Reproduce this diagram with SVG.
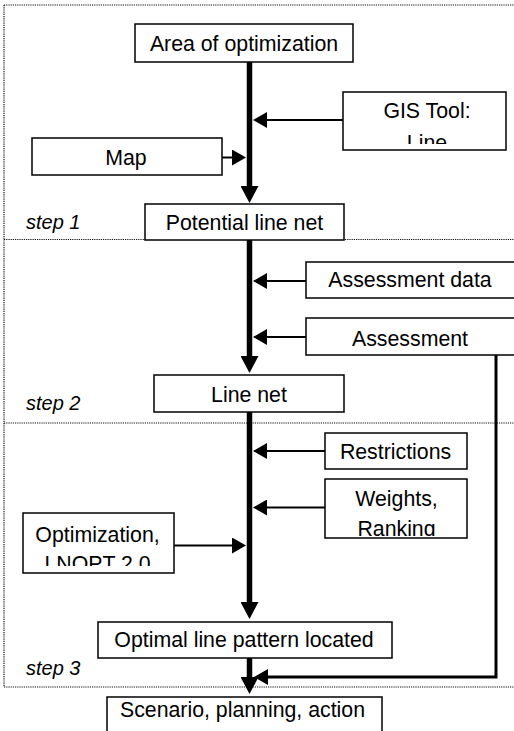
<svg xmlns="http://www.w3.org/2000/svg" width="514" height="731" viewBox="0 0 514 731">
<style>
.box{fill:#fff;stroke:#000;stroke-width:1.5}
.t{font-family:"Liberation Sans",Arial,sans-serif;font-size:21.3px;fill:#000;text-anchor:middle}
.step{font-family:"Liberation Sans",Arial,sans-serif;font-size:20px;font-style:italic;fill:#000}
.dot{stroke:#111;stroke-width:1.2;stroke-dasharray:1.2 1;fill:none}
.thin{stroke:#000;stroke-width:2;fill:none;marker-end:url(#ah)}
.thick{stroke:#000;stroke-width:5.5;fill:none;marker-end:url(#ahb)}
</style>
<defs>
<marker id="ah" viewBox="0 0 14 16" refX="1" refY="8" markerWidth="14" markerHeight="16" markerUnits="userSpaceOnUse" orient="auto">
<path d="M0,0 L14,8 L0,16 z" fill="#000"/>
</marker>
<marker id="ahb" viewBox="0 0 17 18" refX="1" refY="9" markerWidth="17" markerHeight="18" markerUnits="userSpaceOnUse" orient="auto">
<path d="M0,0 L17,9 L0,18 z" fill="#000"/>
</marker>
<clipPath id="cGis"><rect x="343" y="92" width="163" height="52"/></clipPath>
<clipPath id="cW"><rect x="325" y="479" width="142" height="57"/></clipPath>
<clipPath id="cO"><rect x="23" y="513" width="151" height="53"/></clipPath>
</defs>
<rect width="514" height="731" fill="#fff"/>
<g id="frame">
<path class="dot" d="M4,5 H514 M4,239.5 H514 M4,423 H514 M4,687 H514 M4,5 V687"/>
</g>
<g id="connectors">
<path class="thick" d="M249.5,62 V187"/>
<path class="thick" d="M249.5,240 V357"/>
<path class="thick" d="M249.5,412 V603"/>
<path class="thick" d="M249.5,658 V678"/>
<path class="thin" d="M343,120 H266"/>
<path class="thin" d="M222,157.5 H233"/>
<path class="thin" d="M306,281 H266"/>
<path class="thin" d="M306,337 H266"/>
<path class="thin" d="M325,451 H266"/>
<path class="thin" d="M325,507.5 H266"/>
<path class="thin" d="M174,545.5 H233"/>
<path d="M496,355 V677 H267" fill="none" stroke="#000" stroke-width="3" marker-end="url(#ah)"/>
</g>
<g id="n-area"><rect class="box" x="135" y="24" width="218" height="38"/><text class="t" x="244" y="50.5">Area of optimization</text></g>
<g id="n-gis"><rect class="box" x="343" y="92" width="163" height="58"/><g clip-path="url(#cGis)"><text class="t" x="427" y="117.5">GIS Tool:</text><text class="t" x="427" y="150">Line</text></g></g>
<g id="n-map"><rect class="box" x="32" y="138" width="190" height="37"/><text class="t" x="126" y="165">Map</text></g>
<g id="n-potential"><rect class="box" x="145" y="204" width="199" height="36"/><text class="t" x="244.5" y="229.5">Potential line net</text></g>
<g id="step1"><text class="step" x="26" y="229">step 1</text></g>
<g id="n-adata"><rect class="box" x="306" y="262" width="220" height="36"/><text class="t" x="410" y="287">Assessment data</text></g>
<g id="n-assess"><rect class="box" x="306" y="318" width="220" height="37"/><text class="t" x="410" y="345.5">Assessment</text></g>
<g id="n-linenet"><rect class="box" x="154" y="375" width="190" height="37"/><text class="t" x="249" y="401.5">Line net</text></g>
<g id="step2"><text class="step" x="26" y="410">step 2</text></g>
<g id="n-restr"><rect class="box" x="325" y="433" width="142" height="36"/><text class="t" x="395.5" y="458.5">Restrictions</text></g>
<g id="n-weights"><rect class="box" x="325" y="479" width="142" height="59"/><g clip-path="url(#cW)"><text class="t" x="396.5" y="505.5">Weights,</text><text class="t" x="396.5" y="536">Ranking</text></g></g>
<g id="n-opt"><rect class="box" x="23" y="513" width="151" height="60"/><g clip-path="url(#cO)"><text class="t" x="97.5" y="541.5">Optimization,</text><text class="t" x="97.5" y="570.5">LNOPT 2.0</text></g></g>
<g id="n-optimal"><rect class="box" x="98" y="622" width="294" height="36"/><text class="t" x="244" y="647">Optimal line pattern located</text></g>
<g id="step3"><text class="step" x="26" y="675">step 3</text></g>
<g id="n-scenario"><rect class="box" x="107" y="697" width="275" height="40"/><text class="t" x="242.5" y="717">Scenario, planning, action</text></g>
</svg>
